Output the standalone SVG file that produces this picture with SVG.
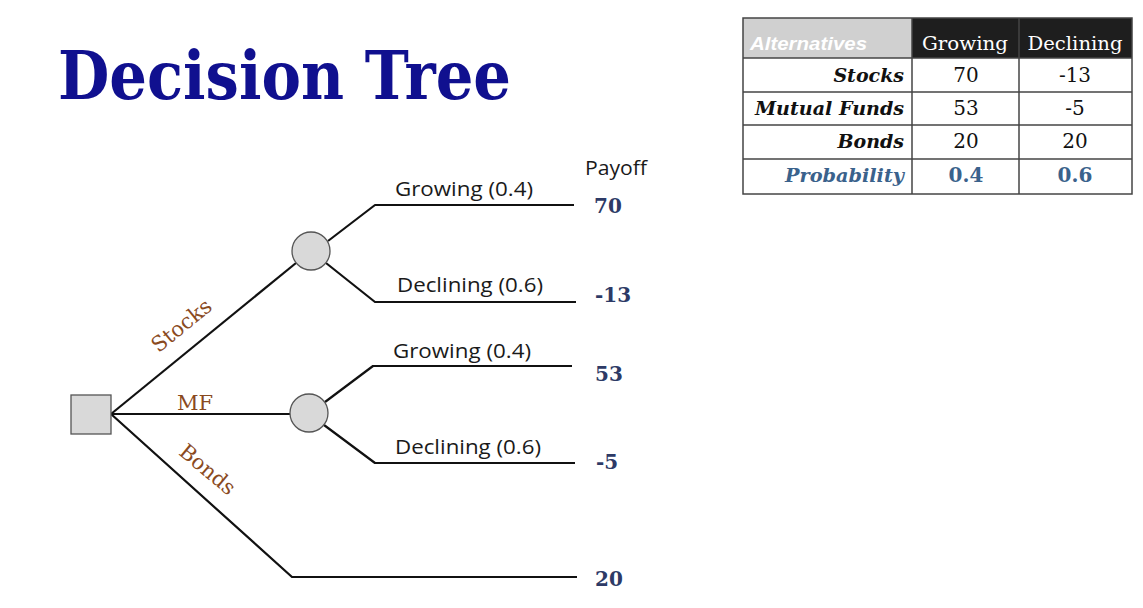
<svg xmlns="http://www.w3.org/2000/svg" width="1143" height="608" viewBox="0 0 1143 608">
<style>
.ln{fill:none;stroke:#111;stroke-width:2.2;stroke-linejoin:round}
.chance{fill:#d9d9d9;stroke:#555;stroke-width:1.3}
.lbl{font-family:"Open Sans","Noto Sans",sans-serif;font-size:20px;fill:#1a1a1a}
.pay{font-family:"DejaVu Serif","Liberation Serif",serif;font-weight:bold;font-size:20px;fill:#2d3a66}
.alt{font-family:"DejaVu Serif","Liberation Serif",serif;font-size:21px;fill:#8a4a1e}
.th{font-family:"DejaVu Serif",serif;font-size:19px;fill:#fff}
.rl{font-family:"DejaVu Serif",serif;font-style:italic;font-weight:bold;font-size:19px;fill:#111;text-anchor:end}
.cv{font-family:"DejaVu Serif",serif;font-size:20px;fill:#111;text-anchor:middle}
.tb{fill:none;stroke:#444;stroke-width:1.5}
</style>
<rect width="1143" height="608" fill="#fff"/>
<text x="58" y="99" font-family="DejaVu Serif,serif" font-weight="bold" font-size="68" fill="#10108f" textLength="453" lengthAdjust="spacingAndGlyphs">Decision Tree</text>

<g id="connectors">
<line class="ln" x1="111" y1="414" x2="296" y2="263"/>
<line class="ln" x1="111" y1="414" x2="290" y2="414"/>
<polyline class="ln" points="111,414 292,577 577,577"/>
<polyline class="ln" points="328,241 375,205 574,205"/>
<polyline class="ln" points="326,263 375,302 576,302"/>
<polyline class="ln" points="325,402 373,366 572,366"/>
<polyline class="ln" points="324,425 375,463 575,463"/>
</g>

<g id="decision"><rect x="71" y="395" width="40" height="39" fill="#d9d9d9" stroke="#555" stroke-width="1.3"/></g>
<g id="chance-stocks"><circle class="chance" cx="311" cy="251" r="19"/></g>
<g id="chance-mf"><circle class="chance" cx="309" cy="413" r="19"/></g>

<g id="branch-labels">
<text class="alt" transform="translate(186,331) rotate(-39)" text-anchor="middle">Stocks</text>
<text class="alt" x="195" y="410" text-anchor="middle">MF</text>
<text class="alt" transform="translate(203,475) rotate(40)" text-anchor="middle">Bonds</text>
<text class="lbl" x="395" y="196" textLength="138" lengthAdjust="spacingAndGlyphs">Growing (0.4)</text>
<text class="lbl" x="397" y="292" textLength="146" lengthAdjust="spacingAndGlyphs">Declining (0.6)</text>
<text class="lbl" x="393" y="358" textLength="138" lengthAdjust="spacingAndGlyphs">Growing (0.4)</text>
<text class="lbl" x="395" y="454" textLength="146" lengthAdjust="spacingAndGlyphs">Declining (0.6)</text>
</g>

<g id="payoffs">
<text class="lbl" x="585" y="175" textLength="62" lengthAdjust="spacingAndGlyphs">Payoff</text>
<text class="pay" x="594" y="213">70</text>
<text class="pay" x="595" y="302">-13</text>
<text class="pay" x="595" y="381">53</text>
<text class="pay" x="596" y="469">-5</text>
<text class="pay" x="595" y="586">20</text>
</g>

<g id="table">
<rect x="743" y="18" width="169" height="40" fill="#d0d0d0"/>
<rect x="912" y="18" width="220" height="40" fill="#1e1e1e"/>
<rect class="tb" x="743" y="18" width="389" height="176"/>
<line class="tb" x1="912" y1="18" x2="912" y2="194"/>
<line class="tb" x1="1019" y1="18" x2="1019" y2="194"/>
<line class="tb" x1="743" y1="58" x2="1132" y2="58"/>
<line class="tb" x1="743" y1="92" x2="1132" y2="92"/>
<line class="tb" x1="743" y1="125" x2="1132" y2="125"/>
<line class="tb" x1="743" y1="159" x2="1132" y2="159"/>
<text x="750" y="50" font-family="Liberation Sans,sans-serif" font-style="italic" font-weight="bold" font-size="18" fill="#fff" textLength="117" lengthAdjust="spacingAndGlyphs">Alternatives</text>
<text class="th" x="965" y="50" text-anchor="middle" textLength="86" lengthAdjust="spacingAndGlyphs">Growing</text>
<text class="th" x="1075" y="50" text-anchor="middle" textLength="95" lengthAdjust="spacingAndGlyphs">Declining</text>
<text class="rl" x="904" y="82">Stocks</text>
<text class="rl" x="904" y="115" textLength="149" lengthAdjust="spacingAndGlyphs">Mutual Funds</text>
<text class="rl" x="904" y="148">Bonds</text>
<text class="rl" x="904" y="182" style="fill:#3a628c" textLength="119" lengthAdjust="spacingAndGlyphs">Probability</text>
<text class="cv" x="966" y="82">70</text>
<text class="cv" x="1075" y="82">-13</text>
<text class="cv" x="966" y="115">53</text>
<text class="cv" x="1075" y="115">-5</text>
<text class="cv" x="966" y="148">20</text>
<text class="cv" x="1075" y="148">20</text>
<text class="cv" x="966" y="182" style="fill:#3a628c;font-weight:bold">0.4</text>
<text class="cv" x="1075" y="182" style="fill:#3a628c;font-weight:bold">0.6</text>
</g>
</svg>
